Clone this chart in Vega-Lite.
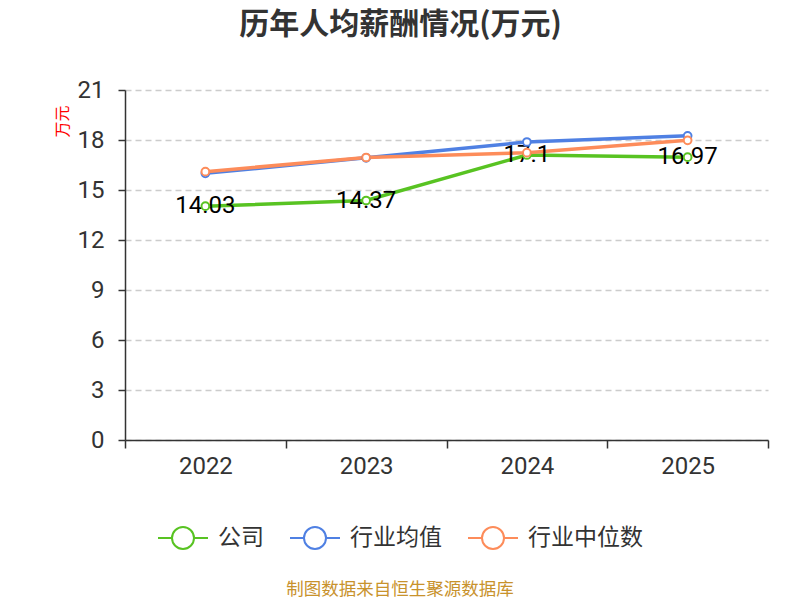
{
  "$schema": "https://vega.github.io/schema/vega-lite/v6.json",
  "autosize": "none",
  "width": 643,
  "height": 350,
  "padding": {"left": 125, "top": 90, "right": 32, "bottom": 160},
  "background": "white",
  "title": {
    "text": "历年人均薪酬情况(万元)",
    "font": "Noto Sans CJK SC",
    "fontSize": 30,
    "fontWeight": "bold",
    "color": "#333333",
    "anchor": "middle",
    "dx": -46,
    "offset": 38
  },
  "config": {
    "view": {"stroke": null},
    "font": "Noto Sans CJK SC"
  },
  "data": {
    "values": [
      {"year": "2022", "series": "公司", "value": 14.03},
      {"year": "2023", "series": "公司", "value": 14.37},
      {"year": "2024", "series": "公司", "value": 17.1},
      {"year": "2025", "series": "公司", "value": 16.97},
      {"year": "2022", "series": "行业均值", "value": 16.0},
      {"year": "2023", "series": "行业均值", "value": 16.93},
      {"year": "2024", "series": "行业均值", "value": 17.88},
      {"year": "2025", "series": "行业均值", "value": 18.25},
      {"year": "2022", "series": "行业中位数", "value": 16.1},
      {"year": "2023", "series": "行业中位数", "value": 16.95},
      {"year": "2024", "series": "行业中位数", "value": 17.24},
      {"year": "2025", "series": "行业中位数", "value": 17.98}
    ]
  },
  "encoding": {
    "x": {
      "field": "year",
      "type": "ordinal",
      "bandPosition": 0.5,
      "scale": {"type": "band", "paddingInner": 0, "paddingOuter": 0},
      "axis": {
        "title": null,
        "labelAngle": 0,
        "labelFont": "Roboto",
        "labelFontSize": 24,
        "labelColor": "#333333",
        "labelPadding": 6,
        "domainColor": "#333333",
        "domainWidth": 1.5,
        "tickColor": "#333333",
        "tickWidth": 1.5,
        "tickSize": 8,
        "tickBand": "extent",
        "grid": false
      }
    },
    "y": {
      "field": "value",
      "type": "quantitative",
      "scale": {"domain": [0, 21]},
      "axis": {
        "title": "万元",
        "titleColor": "red",
        "titleFontSize": 16,
        "titleFontWeight": "normal",
        "titleX": -63,
        "titleY": 31,
        "titleAngle": -90,
        "titleAlign": "center",
        "titleBaseline": "middle",
        "values": [0, 3, 6, 9, 12, 15, 18, 21],
        "labelFont": "Roboto",
        "labelFontSize": 24,
        "labelColor": "#333333",
        "labelPadding": 14,
        "domainColor": "#333333",
        "domainWidth": 1.5,
        "tickColor": "#333333",
        "tickWidth": 1.5,
        "tickSize": 7,
        "gridColor": "#cccccc",
        "gridDash": [6, 4],
        "gridWidth": 1.5
      }
    },
    "color": {
      "field": "series",
      "type": "nominal",
      "scale": {
        "domain": ["公司", "行业均值", "行业中位数"],
        "range": ["#58c322", "#4f80e3", "#fd8c5a"]
      },
      "legend": {
        "title": "制图数据来自恒生聚源数据库",
        "titleOrient": "bottom",
        "titleAnchor": "middle",
        "titleColor": "#c8922c",
        "titleFontSize": 17.5,
        "titleFontWeight": "normal",
        "titleLimit": 600,
        "titlePadding": 28,
        "orient": "none",
        "legendX": 32,
        "legendY": 422,
        "direction": "horizontal",
        "symbolType": "M-1,0L-0.44,0M0.44,0L1,0M0.44,0A0.44,0.44 0 1,1 -0.44,0A0.44,0.44 0 1,1 0.44,0",
        "symbolSize": 2500,
        "symbolStrokeWidth": 2,
        "symbolFillColor": "white",
        "labelFontSize": 23,
        "labelColor": "#333333",
        "labelOffset": 9,
        "labelLimit": 300,
        "columnPadding": 22
      }
    }
  },
  "layer": [
    {
      "mark": {"type": "line", "strokeWidth": 3.5}
    },
    {
      "transform": [{"filter": "datum.series === '公司'"}],
      "mark": {"type": "text", "font": "Roboto", "fontSize": 24, "baseline": "middle", "align": "center"},
      "encoding": {
        "text": {"field": "value", "type": "quantitative"},
        "color": {"value": "black"}
      }
    },
    {
      "mark": {"type": "point", "filled": false, "fill": "white", "fillOpacity": 1, "strokeWidth": 2, "size": 60, "opacity": 1}
    }
  ]
}
